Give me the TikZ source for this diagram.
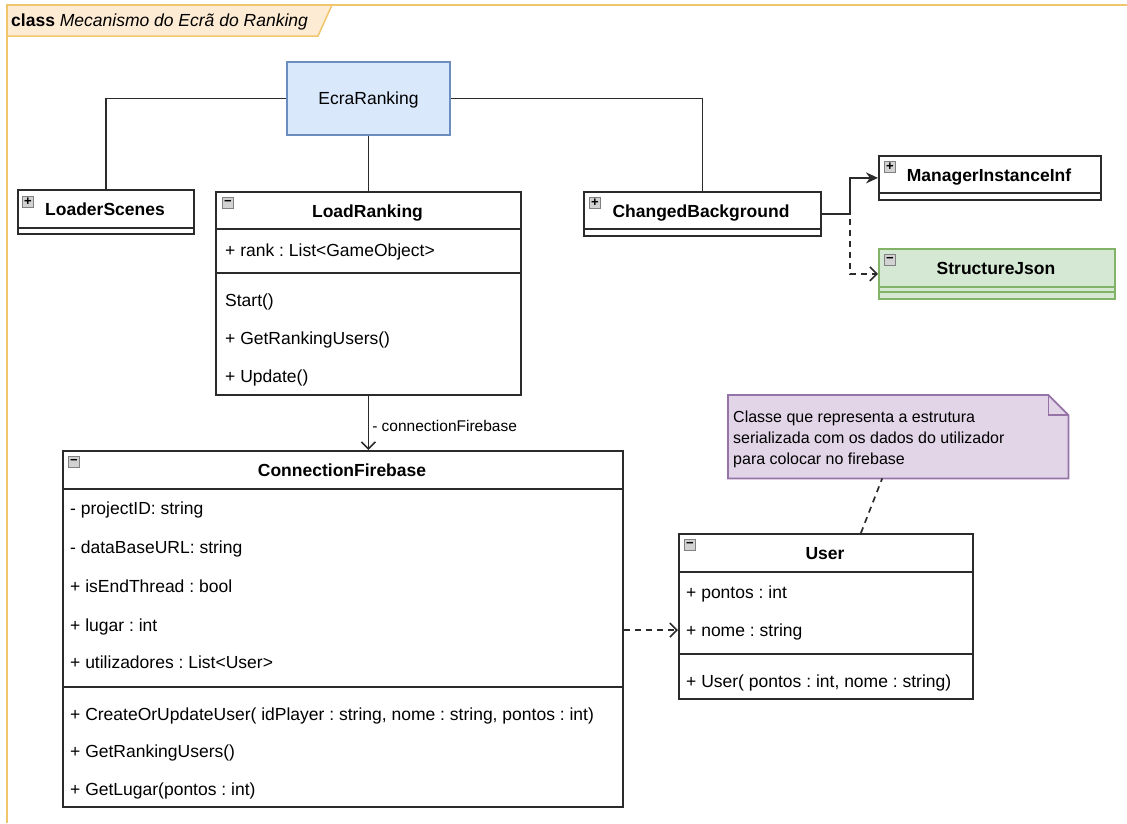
\documentclass[tikz,border=0pt]{standalone}
\usepackage{fontspec}
\setmainfont{Liberation Sans}
\usetikzlibrary{arrows.meta}
\frenchspacing

\definecolor{framecol}{HTML}{F0C56C}
\definecolor{tabfill}{HTML}{FDEBD3}
\definecolor{bluefill}{HTML}{DAE8FC}
\definecolor{blueline}{HTML}{6C8EBF}
\definecolor{greenfill}{HTML}{D5E8D4}
\definecolor{greenline}{HTML}{82B366}
\definecolor{notefill}{HTML}{E1D5E7}
\definecolor{noteline}{HTML}{9673A6}
\definecolor{boxline}{HTML}{2B2B2B}

\tikzset{
  every node/.style={font=\fontsize{17.5}{20}\selectfont},
  classbox/.style={draw=boxline, line width=1.8pt, anchor=north west, inner sep=0},
  title/.style={font=\fontsize{17.5}{20}\selectfont\bfseries, text height=12.5pt, text depth=0pt, inner sep=0},
  row/.style={anchor=west, text height=12.5pt, text depth=0pt, inner sep=0},
  sep/.style={draw=boxline, line width=1.8pt},
  icon/.style={draw=gray, fill=gray!35, line width=0.8pt, minimum size=11pt, inner sep=0, anchor=north west,
    font=\fontsize{13}{13}\selectfont\bfseries},
  link/.style={draw=boxline, line width=1.7pt},
  dep/.style={link, dash pattern=on 6pt off 5pt},
  open/.style={-{Straight Barb[length=7pt,width=14pt,line width=1.6pt]}},
}

\begin{document}
\begin{tikzpicture}[x=1pt,y=-1pt]
\useasboundingbox (0,0) rectangle (1127,823);

% frame and its tab
\draw[framecol, line width=2.5pt] (7,823) -- (7,5) -- (1127,5);
\filldraw[fill=tabfill, draw=framecol, line width=1.5pt] (7,5) -- (332,5) -- (318,36) -- (7,36) -- cycle;
\node[row] (frame-title) at (11,20) {\textbf{class} \textit{Mecanismo do Ecrã do Ranking}};

% main scene
\node[draw=blueline, fill=bluefill, line width=1.8pt, minimum width=163pt, minimum height=73pt,
  text height=12.5pt, text depth=0pt] (ecra) at (368.5,98.5) {EcraRanking};

% LoaderScenes
\node[classbox, minimum width=176pt, minimum height=44pt] (loader) at (17,189) {};
\draw[sep] (17,228) -- (193,228);
\node[icon] (loader-icon) at (22,196) {+};
\node[title] (loader-title) at (105,209) {LoaderScenes};

% LoadRanking
\node[classbox, minimum width=305pt, minimum height=203pt] (loadrk) at (215,191) {};
\draw[sep] (215,229) -- (520,229);
\draw[sep] (215,273) -- (520,273);
\node[icon] (loadrk-icon) at (222,197) {−};
\node[title] (loadrk-title) at (367.5,211) {LoadRanking};
\node[row] (loadrk-rank) at (225,250) {+ rank : List<GameObject>};
\node[row] (loadrk-start) at (225,300) {Start()};
\node[row] (loadrk-get) at (225,338) {+ GetRankingUsers()};
\node[row] (loadrk-upd) at (225,376) {+ Update()};

% ChangedBackground
\node[classbox, minimum width=237pt, minimum height=44pt] (changed) at (583,191) {};
\draw[sep] (583,229) -- (820,229);
\node[icon] (changed-icon) at (589,197) {+};
\node[title] (changed-title) at (701,211) {ChangedBackground};

% ManagerInstanceInf
\node[classbox, minimum width=222pt, minimum height=44pt] (manager) at (878,155) {};
\draw[sep] (878,193) -- (1100,193);
\node[icon] (manager-icon) at (884,161) {+};
\node[title] (manager-title) at (989,175) {ManagerInstanceInf};

% StructureJson
\node[classbox, draw=greenline, fill=greenfill, minimum width=236pt, minimum height=50pt] (structjson) at (878,248) {};
\draw[sep, draw=greenline] (878,287) -- (1114,287);
\draw[sep, draw=greenline] (878,292) -- (1114,292);
\node[icon] (structjson-icon) at (884,254) {−};
\node[title] (structjson-title) at (996,268) {StructureJson};

% ConnectionFirebase
\node[classbox, minimum width=560pt, minimum height=356pt] (connfb) at (62,450) {};
\draw[sep] (62,489) -- (622,489);
\draw[sep] (62,687) -- (622,687);
\node[icon] (connfb-icon) at (68,456) {−};
\node[title] (connfb-title) at (342,470) {ConnectionFirebase};
\node[row] (connfb-id) at (70,508) {- projectID: string};
\node[row] (connfb-url) at (70,547) {- dataBaseURL: string};
\node[row] (connfb-end) at (70,586) {+ isEndThread : bool};
\node[row] (connfb-lugar) at (70,625) {+ lugar : int};
\node[row] (connfb-users) at (70,662) {+ utilizadores : List<User>};
\node[row] (connfb-create) at (70,714) {+ CreateOrUpdateUser( idPlayer : string, nome : string, pontos : int)};
\node[row] (connfb-get) at (70,751) {+ GetRankingUsers()};
\node[row] (connfb-getl) at (70,789) {+ GetLugar(pontos : int)};

% User
\node[classbox, minimum width=294pt, minimum height=165pt] (user) at (678,533) {};
\draw[sep] (678,572) -- (972,572);
\draw[sep] (678,654) -- (972,654);
\node[icon] (user-icon) at (684,539) {−};
\node[title] (user-title) at (825,553) {User};
\node[row] (user-pontos) at (686,592) {+ pontos : int};
\node[row] (user-nome) at (686,630) {+ nome : string};
\node[row] (user-ctor) at (686,681) {+ User( pontos : int, nome : string)};

% note with folded corner
\node[anchor=north west, inner sep=0, minimum width=340pt, minimum height=83pt] (note) at (728,395) {};
\filldraw[fill=notefill, draw=noteline, line width=1.8pt] (note.north west) -- ([xshift=-20pt]note.north east)
  -- ([yshift=-20pt]note.north east) -- (note.south east) -- (note.south west) -- cycle;
\draw[noteline, line width=1.8pt] ([xshift=-20pt]note.north east) -- ([xshift=-20pt,yshift=-20pt]note.north east)
  -- ([yshift=-20pt]note.north east);
\node[row, font=\fontsize{16}{20}\selectfont] (note-l1) at (733,416) {Classe que representa a estrutura};
\node[row, font=\fontsize{16}{20}\selectfont] (note-l2) at (733,437) {serializada com os dados do utilizador};
\node[row, font=\fontsize{16}{20}\selectfont] (note-l3) at (733,458) {para colocar no firebase};

% connectors
\draw[link] (ecra.west) -| (loader.north);
\draw[link] (ecra.south -| loadrk.north) -- (loadrk.north);
\draw[link] (ecra.east) -| (changed.north);
\draw[link, -{Stealth[length=12pt,width=11pt]}] (changed.east) -- ++(28,0) |- (manager.west);
\draw[dep, open] (changed.east) -- ++(28,0) |- (structjson.west);
\draw[link, open] (loadrk.south) -- (loadrk.south |- connfb.north)
  node[row, pos=0.55, xshift=3pt, font=\fontsize{15.5}{18}\selectfont] (fb-label) {- connectionFirebase};
\draw[dep, open] (connfb.east |- user-nome) -- (user.west |- user-nome);
\draw[dep] ([xshift=35pt]user.north) -- ([xshift=-16pt]note.south);
\end{tikzpicture}
\end{document}
